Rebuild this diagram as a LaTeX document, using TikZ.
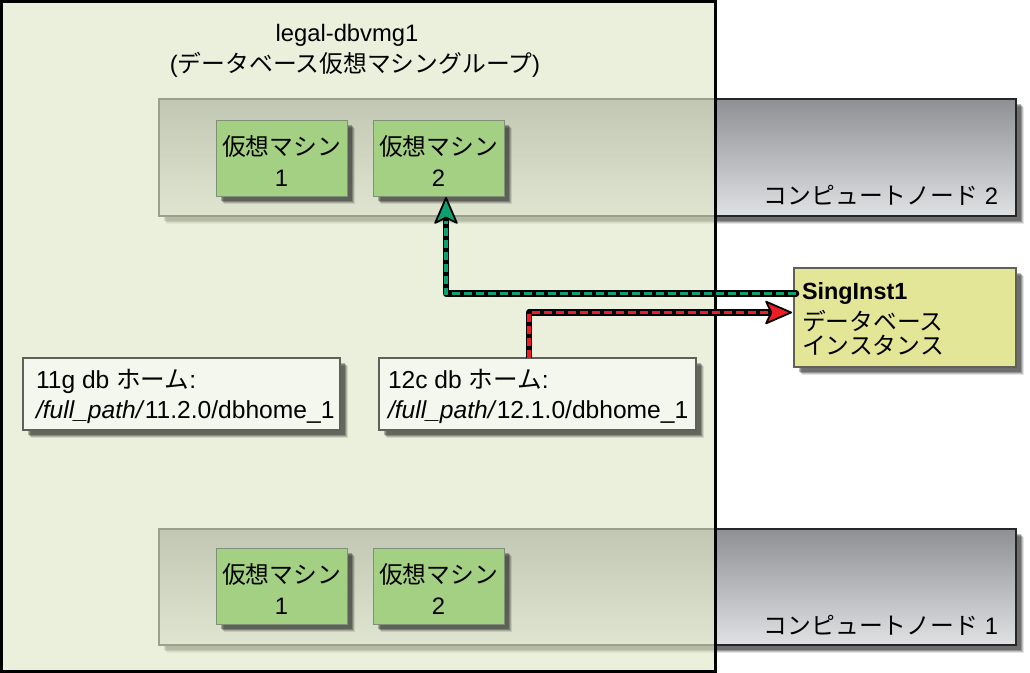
\documentclass[tikz,border=0pt]{standalone}
\usepackage{fontspec}
\setmainfont{Liberation Sans}
\newfontfamily\jpf{Noto Sans CJK JP}
\newcommand{\jp}[1]{{\jpf #1}}
\newcommand{\vmtext}[2]{\raisebox{-2pt}[21pt][0pt]{\jp{#1}}\\\raisebox{-2pt}[17pt][0pt]{#2}}
\usetikzlibrary{arrows.meta,shadows,calc}
\definecolor{overlay}{HTML}{DFE8C6}
\definecolor{vmfill}{HTML}{A3D082}
\definecolor{vmline}{HTML}{7F8F78}
\definecolor{homefill}{HTML}{F4F7EE}
\definecolor{homeline}{HTML}{5F6058}
\definecolor{instfill}{HTML}{E3E696}
\definecolor{gtop}{HTML}{8F9094}
\definecolor{gbot}{HTML}{E0E1E3}
\definecolor{arrgreen}{HTML}{0FA070}
\definecolor{arrred}{HTML}{EE1C25}
\tikzset{
  softshadow/.style={
    general shadow={fill=black,opacity=.10,shadow xshift=8pt,shadow yshift=-8pt},
    general shadow={fill=black,opacity=.16,shadow xshift=7pt,shadow yshift=-7pt},
    general shadow={fill=black,opacity=.22,shadow xshift=6pt,shadow yshift=-6pt},
    general shadow={fill=black,opacity=.26,shadow xshift=5pt,shadow yshift=-5pt}},
  basebox/.style={rectangle,anchor=north west,inner sep=0pt,outer sep=0pt},
  compute/.style={basebox,softshadow,draw=black!85,line width=1.2pt,top color=gtop,bottom color=gbot,minimum width=857pt,minimum height=117pt},
  vm/.style={basebox,softshadow,draw=vmline,line width=1pt,fill=vmfill,minimum width=131pt,minimum height=76pt,align=center,font=\fontsize{23.8}{31}\selectfont},
  home/.style={basebox,softshadow,draw=homeline,line width=1.4pt,fill=homefill,minimum width=317pt,minimum height=72pt},
  plain/.style={inner sep=0pt,outer sep=0pt,font=\fontsize{23.8}{30}\selectfont},
  latin/.style={plain,font=\fontsize{24.6}{30}\selectfont},
  conn/.style={line width=6.5pt,black,line cap=round,line join=round},
  dashline/.style={line width=3.1pt,dash pattern=on 8pt off 4pt},
  tip/.style={-{Stealth[length=29pt 0,width=25pt 0,inset=6pt 0,fill=#1,line width=1.8pt,round]}}
}
\begin{document}
\begin{tikzpicture}[x=1pt,y=-1pt]
\useasboundingbox (0,0) rectangle (1030,672);
\fill[white] (0,0) rectangle (1030,672);
% compute nodes under the translucent group
\node[compute] (cn2) at (159,99) {};
\node[compute,minimum height=116pt] (cn1) at (159,529) {};
\node[plain,anchor=base east] (cn2label) at (998,204) {\jp{コンピュートノード} 2};
\node[plain,anchor=base east] (cn1label) at (998,634) {\jp{コンピュートノード} 1};
% group
\node[basebox,fill=overlay,fill opacity=.63,draw=none,minimum width=715pt,minimum height=672pt] (group) at (0,0) {};
\draw[black,line width=3pt] (1.5,1) rectangle (715.5,671);
\node[plain,anchor=base] (title1) at (347,41) {legal-dbvmg1};
\node[plain,anchor=base] (title2) at (355,72) {(\jp{データベース仮想マシングループ})};
% virtual machines
\node[vm] (vm21) at (216,120) {\vmtext{仮想マシン}{1}};
\node[vm] (vm22) at (373,120) {\vmtext{仮想マシン}{2}};
\node[vm] (vm11) at (216,548) {\vmtext{仮想マシン}{1}};
\node[vm] (vm12) at (373,548) {\vmtext{仮想マシン}{2}};
% homes
\node[home] (home11) at (23,358) {};
\node[home] (home12) at (379,358) {};
\node[latin,anchor=base west] (home11a) at (36,388) {11g db \jp{ホーム}:};
\node[latin,anchor=base west] (home11b) at (36,418) {\textit{/full\_path/}11.2.0/dbhome\_1};
\node[latin,anchor=base west] (home12a) at (388,388) {12c db \jp{ホーム}:};
\node[latin,anchor=base west] (home12b) at (388,418) {\textit{/full\_path/}12.1.0/dbhome\_1};
% instance
\node[basebox,softshadow,draw=homeline,line width=1.4pt,fill=instfill,minimum width=222pt,minimum height=99pt] (inst) at (794,268) {};
\node[plain,anchor=base west,font=\fontsize{23.4}{30}\selectfont] (inst1) at (802,299) {\textbf{SingInst1}};
\node[plain,anchor=base west] (inst2) at (802,330) {\jp{データベース}};
\node[plain,anchor=base west] (inst3) at (802,354) {\jp{インスタンス}};
% connectors
\coordinate (gstart) at ($(inst.west)+(2,-24)$);
\coordinate (rend) at ($(inst.west)+(-2,-5)$);
\coordinate (gend) at ($(vm22.south west)+(73,1)$);
\coordinate (rstart) at ($(home12.north west)+(150,0)$);
\draw[conn,tip=arrgreen] (gstart) -| (gend);
\draw[dashline,arrgreen,shorten >=24pt] (gstart) -| (gend);
\draw[conn,tip=arrred,line cap=butt] (rstart) |- (rend);
\draw[dashline,arrred,shorten >=24pt] (rstart) |- (rend);
\end{tikzpicture}
\end{document}
